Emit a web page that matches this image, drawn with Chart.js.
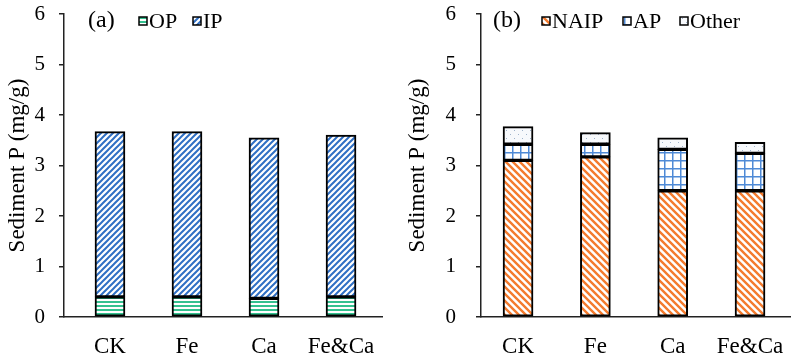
<!DOCTYPE html>
<html>
<head>
<meta charset="utf-8">
<script src="https://cdn.jsdelivr.net/npm/chart.js@4.4.1/dist/chart.umd.min.js"></script>
<style>
  body { margin: 0; background: #fff; }
  .wrap { display: flex; width: 796px; height: 358px; }
  canvas { display: block; }
</style>
</head>
<body>
<div class="wrap">
  <canvas id="chartA" width="400" height="358"></canvas>
  <canvas id="chartB" width="396" height="358"></canvas>
</div>
<script>
// data
const categories = ['CK', 'Fe', 'Ca', 'Fe&Ca'];
const opValues = [0.40, 0.40, 0.37, 0.40];
const ipValues = [3.27, 3.27, 3.18, 3.20];
const naipValues = [3.10, 3.17, 2.50, 2.50];
const apValues = [0.32, 0.25, 0.82, 0.74];
const otherValues = [0.35, 0.23, 0.23, 0.22];
const yTicks = [0, 1, 2, 3, 4, 5, 6];

const FONT = '"Liberation Serif", "Times New Roman", serif';

// fill patterns (tile canvases)
function makePattern(size, bg, draw) {
  const c = document.createElement('canvas');
  c.width = size; c.height = size;
  const g = c.getContext('2d');
  g.fillStyle = bg;
  g.fillRect(0, 0, size, size);
  draw(g, size);
  return g.createPattern(c, 'repeat');
}

const opFill = makePattern(4, '#fff', (g, s) => {
  g.fillStyle = '#34c18f';
  g.fillRect(0, 1, s, 2);
});
const ipFill = makePattern(6, '#fff', (g, s) => {
  g.strokeStyle = '#2f6fc4';
  g.lineWidth = 2;
  g.beginPath();
  g.moveTo(0, s); g.lineTo(s, 0);
  g.moveTo(-1, 1); g.lineTo(1, -1);
  g.moveTo(s - 1, s + 1); g.lineTo(s + 1, s - 1);
  g.stroke();
});
const naipFill = makePattern(7, '#fff', (g, s) => {
  g.strokeStyle = '#f47b2e';
  g.lineWidth = 2.4;
  g.beginPath();
  g.moveTo(0, 0); g.lineTo(s, s);
  g.moveTo(-1, s - 1); g.lineTo(1, s + 1);
  g.moveTo(s - 1, -1); g.lineTo(s + 1, 1);
  g.stroke();
});
const apFill = makePattern(8, '#fff', (g, s) => {
  g.fillStyle = '#4f8ad6';
  g.fillRect(0, 0, 1.5, s);
  g.fillRect(0, 0, s, 1.5);
});
const otherFill = makePattern(8, '#f7f9fc', (g, s) => {
  g.fillStyle = '#9fb3cb';
  g.fillRect(2, 2, 1, 1);
  g.fillRect(6, 6, 1, 1);
});

function points(values) {
  return values.map((v, i) => ({ x: i, y: v }));
}

function barSet(label, values, fill) {
  return {
    label: label,
    data: points(values),
    backgroundColor: fill,
    borderColor: '#000',
    borderWidth: 2,
    borderSkipped: false,
    barThickness: 30
  };
}

function noPad(s) {
  s.paddingTop = 0; s.paddingBottom = 0;
  s.paddingLeft = 0; s.paddingRight = 0;
}

// "(a)" label and the little legend inside the plot
function panelLegend(label, labelX, items) {
  return {
    id: 'panelLegend',
    afterDraw(chart) {
      const ctx = chart.ctx;
      ctx.save();
      ctx.textBaseline = 'middle';
      ctx.fillStyle = '#000';
      ctx.font = '24px ' + FONT;
      ctx.fillText(label, labelX, 21);
      ctx.font = '22px ' + FONT;
      items.forEach(it => {
        ctx.fillStyle = it.fill;
        ctx.fillRect(it.x, 17, 8, 8);
        ctx.strokeStyle = '#000';
        ctx.lineWidth = 1.5;
        ctx.strokeRect(it.x, 17, 8, 8);
        ctx.fillStyle = '#000';
        ctx.fillText(it.text, it.x + 10, 22);
      });
      ctx.restore();
    }
  };
}

function makeChart(id, datasets, opts) {
  return new Chart(document.getElementById(id), {
    type: 'bar',
    data: { datasets: datasets },
    options: {
      responsive: false,
      animation: false,
      devicePixelRatio: 1,
      layout: { padding: { top: 14, right: opts.padRight, left: 0, bottom: 0 } },
      plugins: { legend: { display: false }, tooltip: { enabled: false } },
      scales: {
        x: {
          type: 'linear',
          stacked: true,
          offset: false,
          min: opts.xMin,
          max: opts.xMax,
          afterBuildTicks: s => { s.ticks = categories.map((c, i) => ({ value: i })); },
          afterFit: s => { s.height = 41; noPad(s); },
          grid: { display: false },
          border: { display: true, color: '#222', width: 1.5 },
          ticks: {
            autoSkip: false,
            maxRotation: 0,
            padding: 8,
            color: '#000',
            font: { family: FONT, size: 23 },
            callback: v => categories[v]
          }
        },
        y: {
          stacked: true,
          min: 0,
          max: 6,
          afterBuildTicks: s => { s.ticks = yTicks.map(v => ({ value: v })); },
          afterFit: s => { s.width = opts.yWidth; noPad(s); },
          grid: { drawOnChartArea: false, drawTicks: true, tickLength: 5, color: '#222', lineWidth: 1.5 },
          border: { display: true, color: '#222', width: 1.5 },
          ticks: {
            padding: opts.tickPad,
            color: '#000',
            font: { family: FONT, size: 21 }
          },
          title: {
            display: true,
            text: 'Sediment P (mg/g)',
            color: '#000',
            font: { family: FONT, size: 23 },
            padding: { top: 4, bottom: 0 }
          }
        }
      }
    },
    plugins: [opts.legend]
  });
}

makeChart('chartA', [
  barSet('OP', opValues, opFill),
  barSet('IP', ipValues, ipFill)
], {
  xMin: -0.597, xMax: 3.532, yWidth: 64, padRight: 18, tickPad: 14,
  legend: panelLegend('(a)', 88, [
    { text: 'OP', x: 139, fill: opFill },
    { text: 'IP', x: 193, fill: ipFill }
  ])
});

makeChart('chartB', [
  barSet('NAIP', naipValues, naipFill),
  barSet('AP', apValues, apFill),
  barSet('Other', otherValues, otherFill)
], {
  xMin: -0.479, xMax: 3.517, yWidth: 81, padRight: 6, tickPad: 20,
  legend: panelLegend('(b)', 93, [
    { text: 'NAIP', x: 142, fill: naipFill },
    { text: 'AP', x: 223, fill: apFill },
    { text: 'Other', x: 280, fill: otherFill }
  ])
});
</script>
</body>
</html>
